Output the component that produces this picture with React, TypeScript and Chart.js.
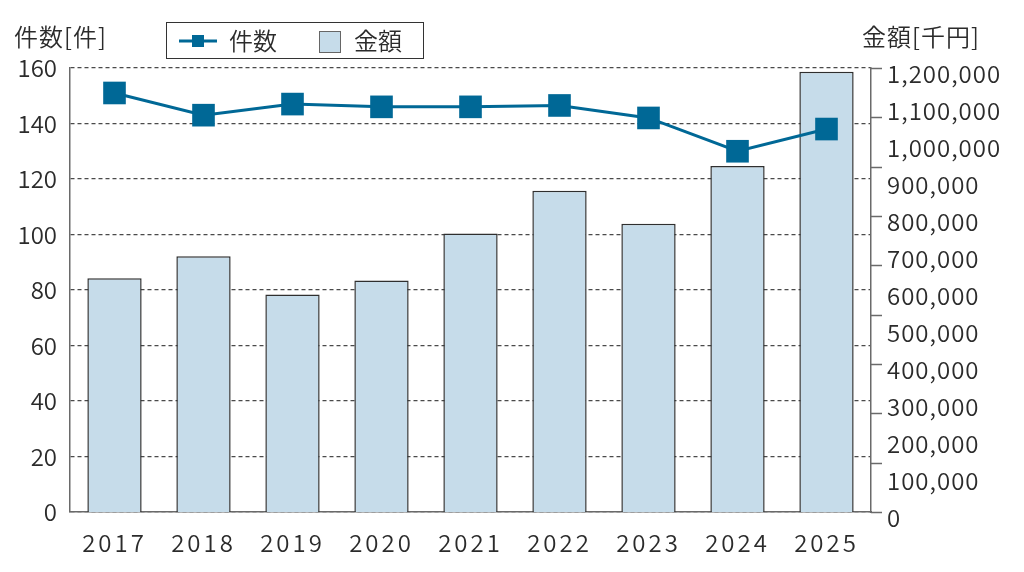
import { useEffect, useRef } from "react"
import { Chart, registerables } from "chart.js"

Chart.register(...registerables)

const FONT = "'Noto Sans CJK JP', 'Noto Sans', sans-serif"
const FONT_WEIGHT = 350
const TEXT_COLOR = "#2b2b2b"
const AXIS_COLOR = "#6a6a6a"
const LINE_COLOR = "#006896"
const BAR_COLOR = "#c6dcea"

// データ
const years = ["2017", "2018", "2019", "2020", "2021", "2022", "2023", "2024", "2025"]
const counts = [151, 143, 147, 146, 146, 146.5, 142, 130, 138]
const amounts = [632000, 691000, 588000, 626000, 753000, 868000, 779000, 935000, 1190000]

const countAxis = { min: 0, max: 160, step: 20 }
const amountAxis = { min: 0, max: 1200000, step: 100000 }
const amountMarks = 9 // 右軸の目盛線の本数（ラベルとは別）

// 軸ラベルの字間（x軸と右軸だけ少し広い）
const labelSpacing: Record<string, string> = { x: "3px", y1: "1px" }

const decorPlugin = {
  id: "decor",
  beforeDraw(chart: Chart) {
    for (const id of Object.keys(labelSpacing)) {
      const s: any = chart.scales[id]
      if (!s || s._spaced) continue
      const orig = s.drawLabels.bind(s)
      s.drawLabels = (area: any) => {
        const c: any = chart.ctx
        c.save()
        c.letterSpacing = labelSpacing[id]
        orig(area)
        c.restore()
      }
      s._spaced = true
    }
  },
  afterDraw(chart: Chart) {
    const ctx: any = chart.ctx
    const y1 = chart.scales.y1
    ctx.save()

    // 右軸の目盛
    ctx.strokeStyle = AXIS_COLOR
    ctx.lineWidth = 1.5
    for (let i = 0; i <= amountMarks; i++) {
      const py = Math.round(y1.getPixelForValue((amountAxis.max * i) / amountMarks)) + 0.5
      ctx.beginPath()
      ctx.moveTo(y1.left, py)
      ctx.lineTo(y1.left + 11, py)
      ctx.stroke()
    }

    // 軸タイトル
    ctx.font = `${FONT_WEIGHT} 24px ${FONT}`
    ctx.fillStyle = TEXT_COLOR
    ctx.textBaseline = "middle"
    ctx.textAlign = "left"
    ctx.letterSpacing = "1px"
    ctx.fillText("件数[件]", 14, 37)
    ctx.fillText("金額[千円]", 862, 37)
    ctx.letterSpacing = "0px"

    // 凡例
    const ds = chart.data.datasets
    ctx.strokeStyle = "#333"
    ctx.lineWidth = 1
    ctx.strokeRect(166.5, 22.5, 257, 36)

    ctx.strokeStyle = LINE_COLOR
    ctx.lineWidth = 3
    ctx.beginPath()
    ctx.moveTo(179, 41)
    ctx.lineTo(217, 41)
    ctx.stroke()
    ctx.fillStyle = LINE_COLOR
    ctx.fillRect(192, 35, 12, 12)

    ctx.fillStyle = BAR_COLOR
    ctx.fillRect(319, 31, 21, 21)
    ctx.strokeStyle = "#666"
    ctx.lineWidth = 1
    ctx.strokeRect(319.5, 31.5, 21, 21)

    ctx.fillStyle = TEXT_COLOR
    ctx.fillText(String(ds[0].label), 229, 41)
    ctx.fillText(String(ds[1].label), 354, 41)

    ctx.restore()
  },
}

export default function App() {
  const chartRef = useRef<HTMLCanvasElement>(null)
  const chartInstance = useRef<Chart | null>(null)

  useEffect(() => {
    if (!chartRef.current) return
    if (chartInstance.current) chartInstance.current.destroy()
    const ctx = chartRef.current.getContext("2d")
    if (!ctx) return

    const tickFont = { family: FONT, size: 24, weight: FONT_WEIGHT }

    chartInstance.current = new Chart(ctx, {
      type: "bar",
      data: {
        labels: years,
        datasets: [
          {
            type: "line",
            label: "件数",
            data: counts,
            borderColor: LINE_COLOR,
            backgroundColor: LINE_COLOR,
            borderWidth: 3,
            pointStyle: "rect",
            pointRadius: 16,
            pointBorderWidth: 0,
            pointBackgroundColor: LINE_COLOR,
            yAxisID: "y",
            order: 0,
          },
          {
            type: "bar",
            label: "金額",
            data: amounts,
            backgroundColor: BAR_COLOR,
            borderColor: "#2f2f2f",
            borderWidth: 1.5,
            categoryPercentage: 1,
            barPercentage: 0.61,
            yAxisID: "y1",
            order: 1,
          },
        ],
      },
      options: {
        responsive: true,
        maintainAspectRatio: false,
        animation: false,
        layout: { padding: { top: 68, left: 0, right: 0, bottom: 0 } },
        plugins: {
          legend: { display: false },
          tooltip: { enabled: false },
        },
        scales: {
          x: {
            grid: { display: false },
            border: { display: true, color: AXIS_COLOR, width: 1.5 },
            ticks: {
              color: TEXT_COLOR,
              font: tickFont,
              padding: 8,
              maxRotation: 0,
            },
            afterFit: (scale) => {
              scale.height = 60
            },
          },
          y: {
            position: "left",
            min: countAxis.min,
            max: countAxis.max,
            grid: { color: "#4a4a4a", lineWidth: 1.2, drawTicks: false },
            border: { display: true, color: AXIS_COLOR, width: 1.5, dash: [4, 3] },
            ticks: {
              stepSize: countAxis.step,
              color: TEXT_COLOR,
              font: tickFont,
              padding: 13,
            },
            afterFit: (scale) => {
              scale.width = 70
            },
          },
          y1: {
            position: "right",
            min: amountAxis.min,
            max: amountAxis.max,
            grid: { display: false, drawTicks: false },
            border: { display: true, color: AXIS_COLOR, width: 1.5 },
            ticks: {
              stepSize: amountAxis.step,
              color: TEXT_COLOR,
              font: tickFont,
              padding: 16,
              labelOffset: 6,
              callback: (v) => Number(v).toLocaleString("en-US"),
            },
            afterFit: (scale) => {
              scale.width = 153
            },
          },
        },
      },
      plugins: [decorPlugin],
    })

    return () => {
      if (chartInstance.current) {
        chartInstance.current.destroy()
        chartInstance.current = null
      }
    }
  }, [])

  return (
    <div style={{ position: "absolute", left: 0, top: 0, width: 1024, height: 572, background: "#fff" }}>
      <canvas ref={chartRef} />
    </div>
  )
}
